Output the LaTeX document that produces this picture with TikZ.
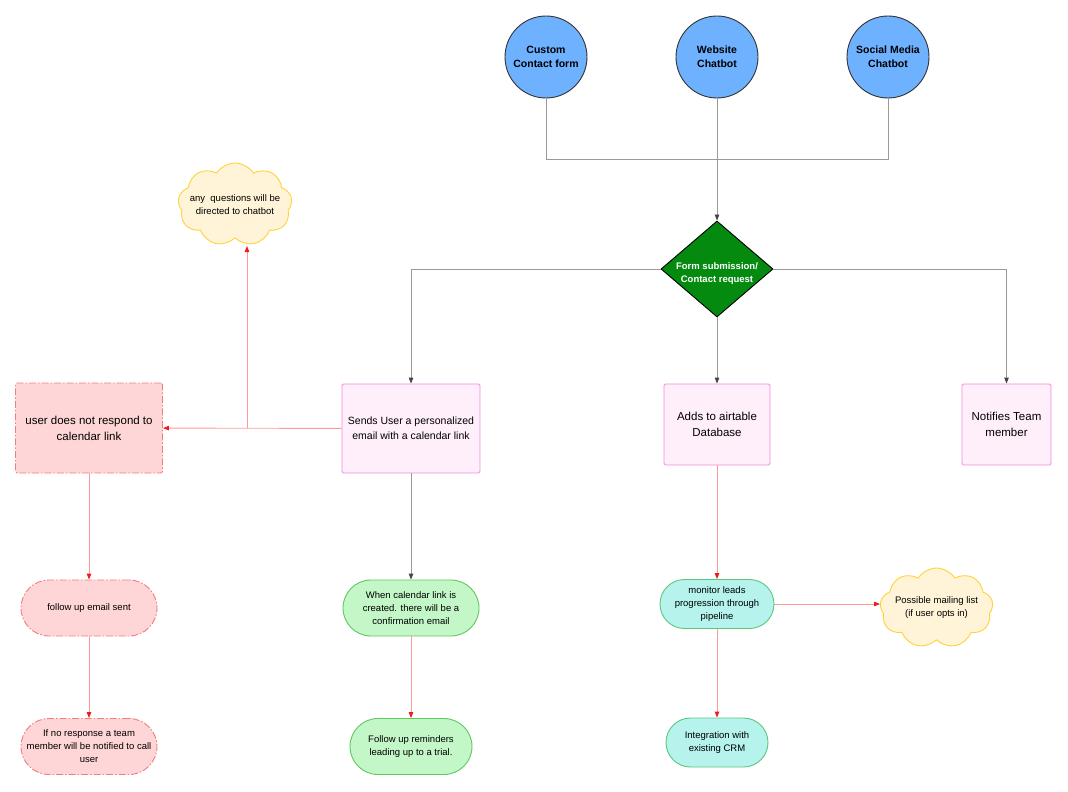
\documentclass[tikz,border=0pt]{standalone}
\usepackage{fontspec}
\setmainfont{Liberation Sans}
\usetikzlibrary{shapes.geometric,shapes.symbols,arrows.meta}
\definecolor{srcfill}{HTML}{6DB1FF}
\definecolor{srcdraw}{HTML}{333333}
\definecolor{dfill}{HTML}{058A10}
\definecolor{pinkfill}{HTML}{FFEFFB}
\definecolor{pinkdraw}{HTML}{F58BDA}
\definecolor{redfill}{HTML}{FFD6D7}
\definecolor{reddraw}{HTML}{F47C7C}
\definecolor{greenfill}{HTML}{C3F7C8}
\definecolor{greendraw}{HTML}{5DC95F}
\definecolor{tealfill}{HTML}{B5F3EC}
\definecolor{tealdraw}{HTML}{5CC77C}
\definecolor{cloudfill}{HTML}{FFF3D8}
\definecolor{clouddraw}{HTML}{FFD23A}
\definecolor{gline}{HTML}{9A9A9A}
\definecolor{gtip}{HTML}{444444}
\definecolor{rline}{HTML}{FF9A9A}
\definecolor{rtip}{HTML}{F21B1B}
\begin{document}
\begin{tikzpicture}[x=1pt,y=-1pt,
  src/.style={circle,draw=srcdraw,fill=srcfill,line width=0.9pt,minimum size=82pt,inner sep=0pt,align=center,font=\fontsize{10.5}{14}\selectfont\bfseries},
  pinkbox/.style={rectangle,rounded corners=1.5pt,draw=pinkdraw,fill=pinkfill,line width=0.9pt,inner sep=0pt,align=center},
  redbox/.style={rectangle,rounded corners=1.5pt,draw=reddraw,fill=redfill,line width=0.9pt,inner sep=0pt,align=center,dash pattern=on 7pt off 2pt on 1.5pt off 2pt},
  redpill/.style={redbox,rounded corners=28pt,minimum width=136pt,minimum height=56pt,font=\fontsize{9.5}{13}\selectfont},
  greenpill/.style={rectangle,draw=greendraw,fill=greenfill,line width=0.9pt,inner sep=0pt,align=center,minimum height=56pt,rounded corners=28pt,font=\fontsize{9.5}{13}\selectfont},
  tealpill/.style={rectangle,draw=tealdraw,fill=tealfill,line width=0.9pt,inner sep=0pt,align=center,minimum height=49pt,rounded corners=24.5pt,font=\fontsize{9.5}{13}\selectfont},
  cloudnode/.style={cloud,cloud puffs=9,cloud puff arc=115,draw=clouddraw,fill=cloudfill,line width=0.9pt,inner sep=0pt},
  cloudtext/.style={align=center,font=\fontsize{9.5}{13}\selectfont},
  garrow/.style={draw=gline,line width=0.9pt,-{Triangle[length=6pt,width=4.5pt,color=gtip]}},
  gplain/.style={draw=gline,line width=0.9pt},
  rarrow/.style={draw=rline,line width=0.9pt,-{Triangle[length=6pt,width=4.5pt,color=rtip]}},
  rplain/.style={draw=rline,line width=0.9pt}
]
\useasboundingbox (0,0) rectangle (1068,792);
\fill[white] (0,0) rectangle (1068,792);

% sources
\node[src] (c1) at (546,57) {Custom\\Contact form};
\node[src] (c2) at (717,57) {Website\\Chatbot};
\node[src] (c3) at (888,57) {Social Media\\Chatbot};

% decision
\node[diamond,draw=black,fill=dfill,line width=0.9pt,minimum width=112pt,minimum height=96pt,inner sep=0pt,
  label={[align=center,text=white,font=\fontsize{9.5}{13}\selectfont\bfseries,yshift=-4.5pt]center:Form submission/\\Contact request}] (d) at (717,269) {};

% boxes
\node[pinkbox,minimum width=138pt,minimum height=89pt,font=\fontsize{10.5}{15}\selectfont] (b1) at (411,428.5) {Sends User a personalized\\email with a calendar link};
\node[pinkbox,minimum width=106pt,minimum height=81pt,font=\fontsize{11.5}{16}\selectfont] (b3) at (717,424.5) {Adds to airtable\\Database};
\node[pinkbox,minimum width=89pt,minimum height=81pt,font=\fontsize{11.5}{16}\selectfont] (b4) at (1006.5,424.5) {Notifies Team\\member};
\node[redbox,minimum width=147pt,minimum height=90pt,font=\fontsize{11.5}{16}\selectfont] (r1) at (89,428) {user does not respond to\\calendar link};

% clouds
\node[cloudnode,minimum width=114pt,minimum height=83pt,
  label={[cloudtext]center:any\ \ questions will be\\directed to chatbot}] (q1) at (235,204.5) {};
\node[cloudnode,minimum width=113pt,minimum height=80pt,
  label={[cloudtext]center:Possible mailing list\\(if user opts in)}] (q2) at (936.5,608) {};

% lower nodes
\node[redpill] (r2) at (89,608) {follow up email sent};
\node[redpill] (r3) at (89,746.5) {If no response a team\\member will be notified to call\\user};
\node[greenpill,minimum width=136pt] (g1) at (411,608) {When calendar link is\\created. there will be a\\confirmation email};
\node[greenpill,minimum width=122pt] (g2) at (411,746.5) {Follow up reminders\\leading up to a trial.};
\node[tealpill,minimum width=114pt] (t1) at (717,604) {monitor leads\\progression through\\pipeline};
\node[tealpill,minimum width=102pt] (t2) at (717,742.5) {Integration with\\existing CRM};

% top connectors
\coordinate (j) at (717,159);
\draw[gplain] (c1) |- (j);
\draw[gplain] (c3) |- (j);
\draw[gplain] (c2) -- (j);
\draw[garrow] (j) -- (d);

% from decision
\draw[garrow] (d.west) -| (b1);
\draw[garrow] (d.east) -| (b4);
\draw[garrow] (d) -- (b3);

% left branch
\coordinate (k) at (247,428);
\coordinate (qb) at (247,246);
\draw[rarrow] (b1) -- (r1);
\draw[rarrow] (k) -- (qb);
\draw[rarrow] (r1) -- (r2);
\draw[rarrow] (r2) -- (r3);

% middle branches
\draw[garrow] (b1) -- (g1);
\draw[rarrow] (g1) -- (g2);
\draw[rarrow] (b3) -- (t1);
\draw[rarrow] (t1) -- (t2);
\coordinate (qw) at (880,604);
\draw[rarrow] (t1) -- (qw);
\end{tikzpicture}
\end{document}
